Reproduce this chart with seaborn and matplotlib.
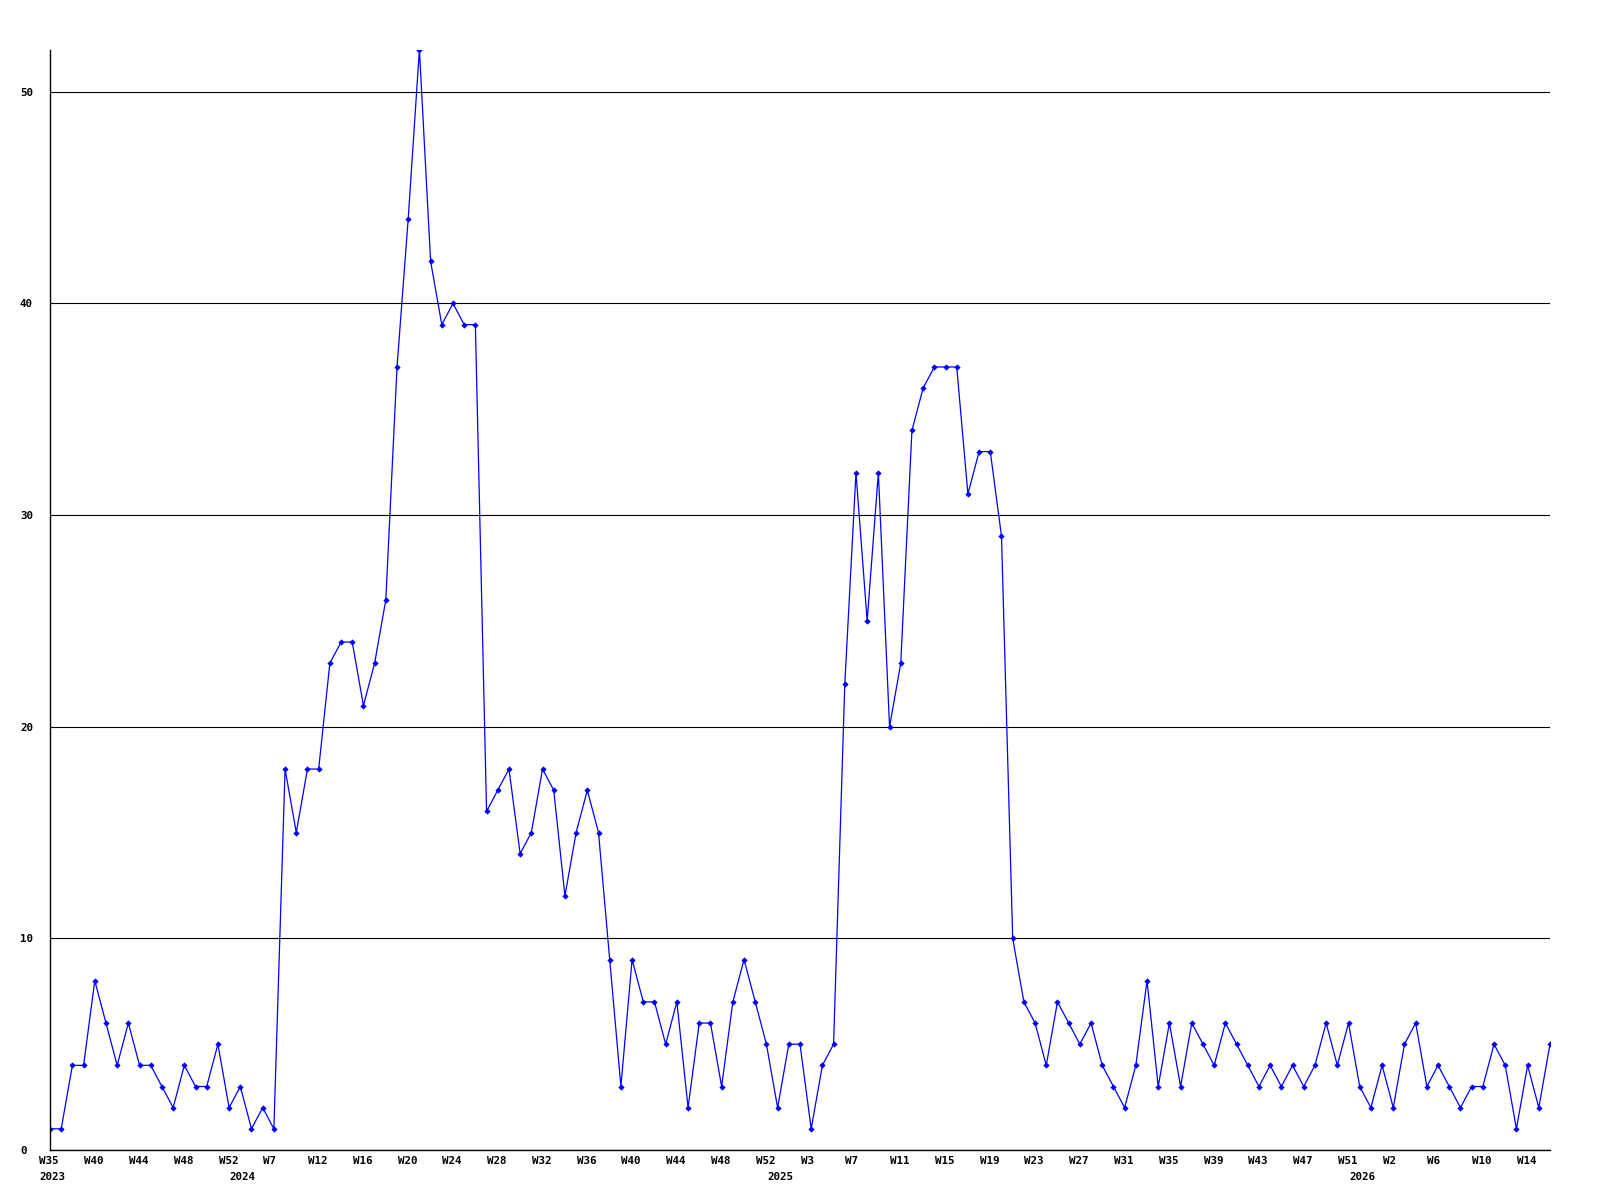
import numpy as np
import pandas as pd
import matplotlib
matplotlib.use("Agg")
import matplotlib.pyplot as plt
import matplotlib.transforms as mtransforms
import seaborn as sns

# ---- data -------------------------------------------------------------
values = [
    1, 1, 4, 4, 8, 6, 4, 6, 4, 4, 3, 2, 4, 3, 3, 5, 2, 3, 1, 2,
    1, 18, 15, 18, 18, 23, 24, 24, 21, 23, 26, 37, 44, 52, 42, 39, 40, 39, 39, 16,
    17, 18, 14, 15, 18, 17, 12, 15, 17, 15, 9, 3, 9, 7, 7, 5, 7, 2, 6, 6,
    3, 7, 9, 7, 5, 2, 5, 5, 1, 4, 5, 22, 32, 25, 32, 20, 23, 34, 36, 37,
    37, 37, 31, 33, 33, 29, 10, 7, 6, 4, 7, 6, 5, 6, 4, 3, 2, 4, 8, 3,
    6, 3, 6, 5, 4, 6, 5, 4, 3, 4, 3, 4, 3, 4, 6, 4, 6, 3, 2, 4,
    2, 5, 6, 3, 4, 3, 2, 3, 3, 5, 4, 1, 4, 2, 5,
]
week_labels = [
    "W35", "W40", "W44", "W48", "W52", "W7", "W12", "W16", "W20", "W24",
    "W28", "W32", "W36", "W40", "W44", "W48", "W52", "W3", "W7", "W11",
    "W15", "W19", "W23", "W27", "W31", "W35", "W39", "W43", "W47", "W51",
    "W2", "W6", "W10", "W14",
]
year_labels = ["2023", "2024", "2025", "2026"]
year_label_index = [0, 17, 65, 117]
y_ticks = [0, 10, 20, 30, 40, 50]

df = pd.DataFrame({"idx": np.arange(len(values)), "value": values})

# ---- figure -----------------------------------------------------------
W, H, DPI = 1600, 1200, 100
fig = plt.figure(figsize=(W / DPI, H / DPI), dpi=DPI, facecolor="white")
ax = fig.add_axes([50 / W, 50 / H, 1500 / W, 1100.5 / H])
ax.set_facecolor("white")

sns.lineplot(data=df, x="idx", y="value", ax=ax, color="#0000ff",
             linewidth=0.9, marker="D", markersize=3.2,
             markeredgewidth=0, markerfacecolor="#0000ff", zorder=3)

ax.set_xlim(0, len(values) - 1)
ax.set_ylim(0, max(values))
ax.set_xlabel("")
ax.set_ylabel("")

for s in ["top", "right"]:
    ax.spines[s].set_visible(False)
for s in ["left", "bottom"]:
    ax.spines[s].set_color("black")
    ax.spines[s].set_linewidth(1.0)
    ax.spines[s].set_zorder(4)

# horizontal grid
ax.set_yticks(y_ticks)
ax.grid(axis="y", color="black", linewidth=0.8, zorder=1)
ax.grid(axis="x", visible=False)
ax.set_axisbelow(True)

font = dict(family="DejaVu Sans Mono", weight="bold", size=7.8)

# x ticks every 4 points
xt = list(range(0, len(values), 4))[:len(week_labels)]
ax.set_xticks(xt)
ax.set_xticklabels(week_labels, fontdict=font)
ax.tick_params(axis="x", length=0, pad=0)
ax.tick_params(axis="y", length=0, pad=0)
ax.set_yticklabels([str(v) for v in y_ticks], fontdict=font)

off_x = mtransforms.ScaledTranslation(-10.6 / DPI, -11.5 / DPI, fig.dpi_scale_trans)
for lab in ax.get_xticklabels():
    lab.set_horizontalalignment("left")
    lab.set_verticalalignment("center")
    lab.set_transform(lab.get_transform() + off_x)

off_y = mtransforms.ScaledTranslation(-30 / DPI, 0, fig.dpi_scale_trans)
for lab in ax.get_yticklabels():
    lab.set_horizontalalignment("left")
    lab.set_transform(lab.get_transform() + off_y)

# year labels under the week labels
ytrans = mtransforms.offset_copy(ax.get_xaxis_transform(), fig=fig,
                                 x=-10.6, y=-27, units="dots")
for xi, txt in zip(year_label_index, year_labels):
    ax.text(xi, 0, txt, transform=ytrans, ha="left", va="center",
            clip_on=False, **font)

fig.savefig("out.png", dpi=DPI, facecolor="white")
